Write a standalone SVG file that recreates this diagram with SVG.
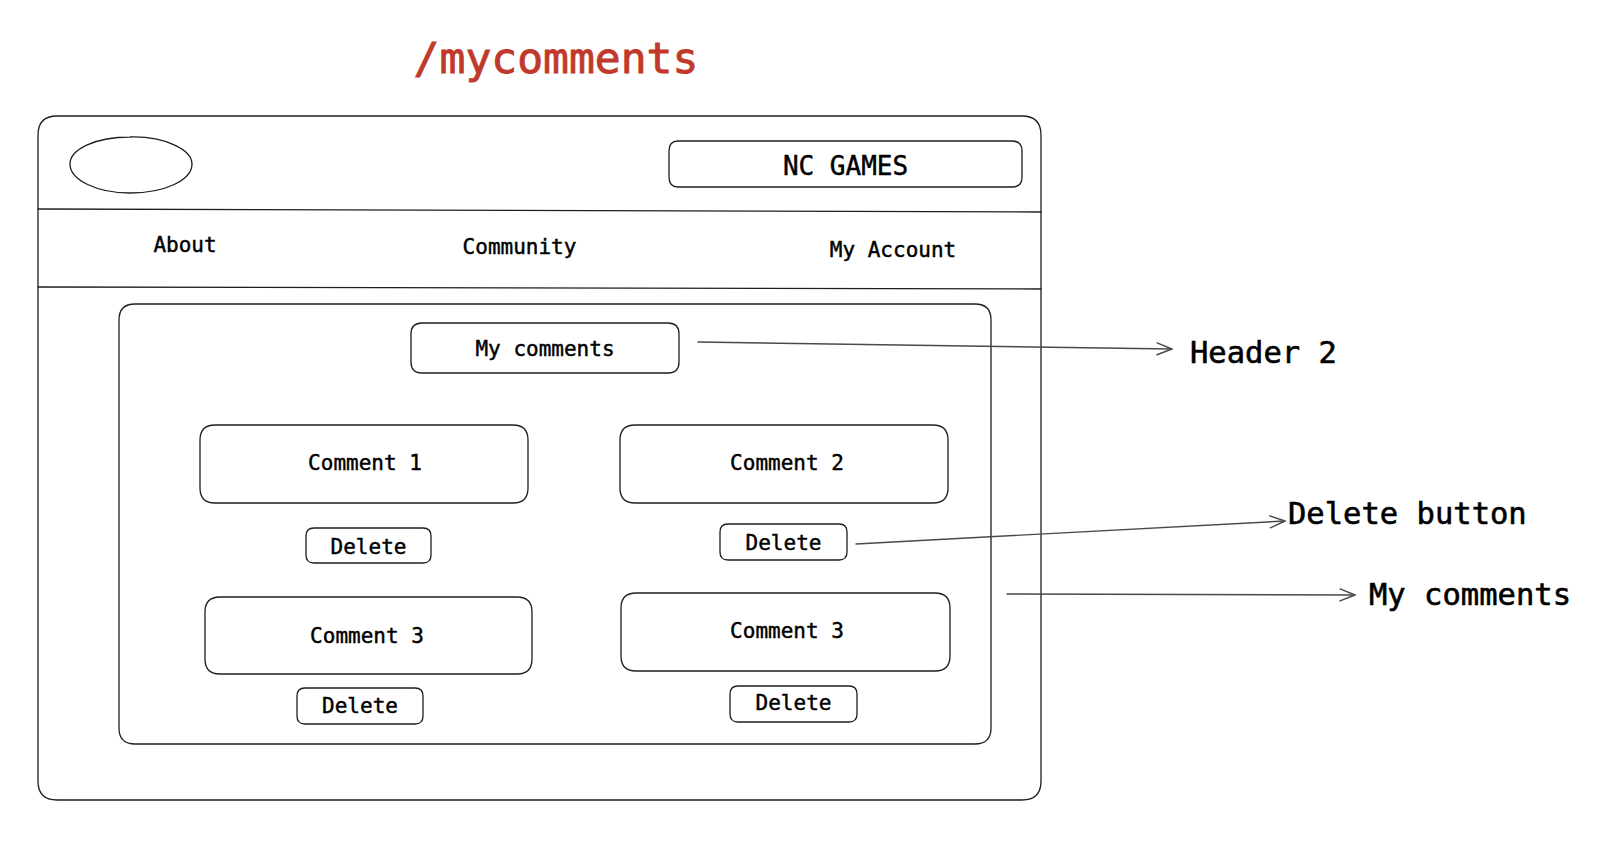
<svg xmlns="http://www.w3.org/2000/svg" width="1616" height="854" viewBox="0 0 1616 854">
<defs>
<style>
.s{fill:none;stroke:#1e1e1e;stroke-width:1.3;stroke-linecap:round;stroke-linejoin:round}
.t{font-family:"DejaVu Sans Mono","Liberation Mono",monospace;fill:#000;stroke:#000;stroke-width:0.45;text-anchor:middle}
.n{font-size:21px}
.c{fill:none;stroke:#4a4a4a;stroke-width:1.4;stroke-linecap:round}
.l{font-family:"DejaVu Sans Mono","Liberation Mono",monospace;font-size:30.5px;fill:#000;stroke:#000;stroke-width:0.6}
</style>
<marker id="ah" markerUnits="userSpaceOnUse" markerWidth="20" markerHeight="16" refX="16" refY="7" orient="auto" viewBox="0 0 20 16">
<path d="M1,1 L16,7 L1,13" fill="none" stroke="#4a4a4a" stroke-width="1.4" stroke-linecap="round" stroke-linejoin="round"/>
</marker>
</defs>
<rect width="1616" height="854" fill="#fff"/>
<text id="title" x="556" y="73" font-family="DejaVu Sans Mono,Liberation Mono,monospace" font-size="43" fill="#c0392b" stroke="#c0392b" stroke-width="0.9" text-anchor="middle">/mycomments</text>
<g id="browser">
<path class="s" d="M57,116 Q500,114 1022,116 Q1041,116 1041,135 L1041,781 Q1041,800 1022,800 L57,800 Q38,800 38,781 L38,135 Q38,116 57,116 Z"/>
<path class="s" d="M38,209 Q540,210 1041,212"/>
<path class="s" d="M38,287 Q540,288 1041,289"/>
</g>
<g id="logo">
<path class="s" d="M130,137 C165,136 192,150 192,164 C192,180 165,193 130,193 C97,193 70,180 70,164 C70,149 96,137 130,137 Z"/>
</g>
<g id="nc-games">
<path class="s" d="M678,141 L1012,141 Q1022,141 1022,151 L1022,177 Q1022,187 1012,187 L678,187 Q669,187 669,177 L669,151 Q669,141 678,141 Z"/>
<text class="t" x="845.5" y="175" font-size="26">NC GAMES</text>
</g>
<g id="nav-about"><text class="t n" x="185" y="252">About</text></g>
<g id="nav-community"><text class="t n" x="519.5" y="254">Community</text></g>
<g id="nav-account"><text class="t n" x="893" y="257">My Account</text></g>
<g id="content">
<path class="s" d="M135,304 Q560,303 975,304 Q991,304 991,320 L991,728 Q991,744 975,744 L135,744 Q119,744 119,728 L119,320 Q119,304 135,304 Z"/>
</g>
<g id="my-comments-header">
<path class="s" d="M422,323 L668,323 Q679,323 679,334 L679,362 Q679,373 668,373 L422,373 Q411,373 411,362 L411,334 Q411,323 422,323 Z"/>
<text class="t n" x="545" y="356">My comments</text>
</g>
<g id="comment-1">
<path class="s" d="M215,425 L513,425 Q528,425 528,440 L528,488 Q528,503 513,503 L215,503 Q200,503 200,488 L200,440 Q200,425 215,425 Z"/>
<text class="t n" x="365" y="470">Comment 1</text>
</g>
<g id="delete-1">
<path class="s" d="M314,528 L423,528 Q431,528 431,536 L431,555 Q431,563 423,563 L314,563 Q306,563 306,555 L306,536 Q306,528 314,528 Z"/>
<text class="t n" x="368.5" y="554">Delete</text>
</g>
<g id="comment-2">
<path class="s" d="M635,425 L933,425 Q948,425 948,440 L948,488 Q948,503 933,503 L635,503 Q620,503 620,488 L620,440 Q620,425 635,425 Z"/>
<text class="t n" x="787" y="470">Comment 2</text>
</g>
<g id="delete-2">
<path class="s" d="M728,524 L839,524 Q847,524 847,532 L847,552 Q847,560 839,560 L728,560 Q720,560 720,552 L720,532 Q720,524 728,524 Z"/>
<text class="t n" x="783.5" y="550">Delete</text>
</g>
<g id="comment-3-left">
<path class="s" d="M220,597 L517,597 Q532,597 532,612 L532,659 Q532,674 517,674 L220,674 Q205,674 205,659 L205,612 Q205,597 220,597 Z"/>
<text class="t n" x="367" y="643">Comment 3</text>
</g>
<g id="delete-3">
<path class="s" d="M305,688 L415,688 Q423,688 423,696 L423,716 Q423,724 415,724 L305,724 Q297,724 297,716 L297,696 Q297,688 305,688 Z"/>
<text class="t n" x="360" y="713">Delete</text>
</g>
<g id="comment-3-right">
<path class="s" d="M636,593 L935,593 Q950,593 950,608 L950,656 Q950,671 935,671 L636,671 Q621,671 621,656 L621,608 Q621,593 636,593 Z"/>
<text class="t n" x="787" y="638">Comment 3</text>
</g>
<g id="delete-4">
<path class="s" d="M738,686 L849,686 Q857,686 857,694 L857,714 Q857,722 849,722 L738,722 Q730,722 730,714 L730,694 Q730,686 738,686 Z"/>
<text class="t n" x="793.5" y="710">Delete</text>
</g>
<g id="connectors">
<path class="c" d="M698,342 L1172,349" marker-end="url(#ah)"/>
<path class="c" d="M856,544 L1285,521" marker-end="url(#ah)"/>
<path class="c" d="M1007,594 L1355,595" marker-end="url(#ah)"/>
</g>
<g id="label-header2"><text class="l" x="1190" y="363">Header 2</text></g>
<g id="label-delete"><text class="l" x="1288" y="524">Delete button</text></g>
<g id="label-mycomments"><text class="l" x="1369" y="605">My comments</text></g>
</svg>
